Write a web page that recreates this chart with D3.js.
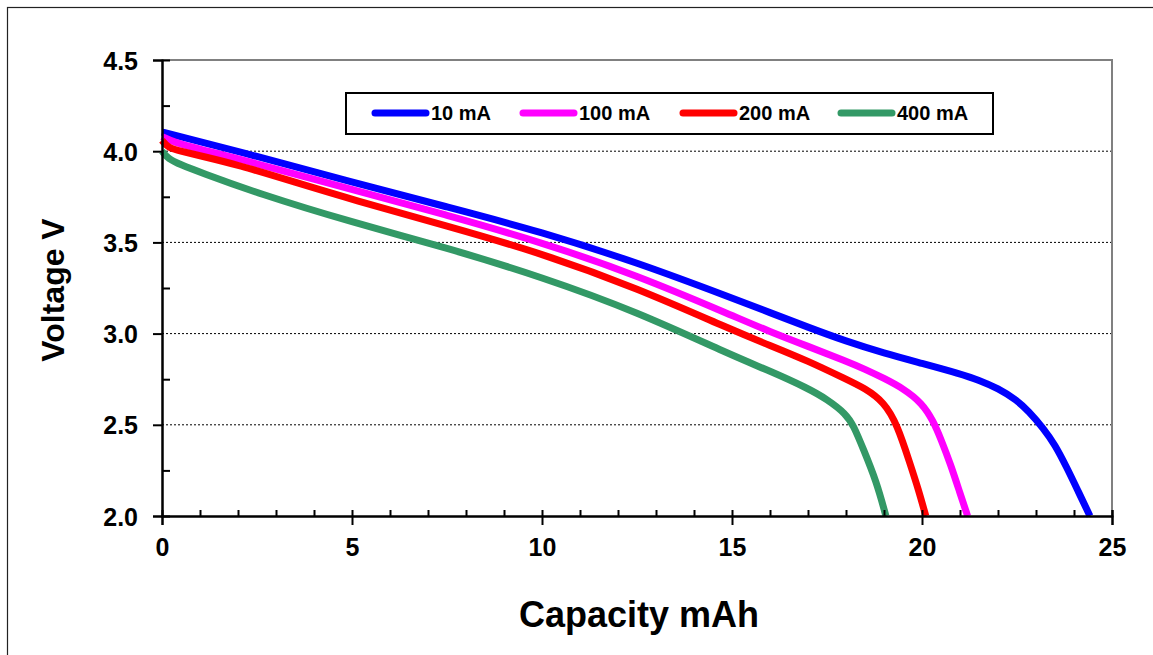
<!DOCTYPE html>
<html>
<head>
<meta charset="utf-8">
<script src="https://cdn.jsdelivr.net/npm/d3@7"></script>
<style>
  body { margin: 0; background: #fff; }
  text { font-family: "Liberation Sans", Arial, sans-serif; font-weight: bold; fill: #000; }
</style>
</head>
<body>
<div class="board"></div>
<script>

// discharge curves
var cap10  = [0, 0.3, 2, 5, 7.5, 10, 12.5, 15, 16, 17, 18, 19, 20, 21, 21.5, 22, 22.5, 22.8, 23.2, 23.5, 23.8, 24.1, 24.42];
var volt10 = [4.105, 4.09, 4.0, 3.83, 3.695, 3.557, 3.39, 3.195, 3.115, 3.035, 2.958, 2.893, 2.837, 2.78, 2.745, 2.70, 2.635, 2.575, 2.48, 2.39, 2.27, 2.14, 2.0];

var cap100  = [0, 0.3, 1, 2, 5, 7.5, 10, 12.5, 15, 16, 17, 18, 18.5, 19, 19.5, 20, 20.3, 20.5, 20.75, 21, 21.2];
var volt100 = [4.08, 4.05, 4.01, 3.96, 3.79, 3.65, 3.50, 3.32, 3.10, 3.01, 2.93, 2.85, 2.805, 2.755, 2.70, 2.62, 2.52, 2.42, 2.285, 2.125, 2.0];

var cap200  = [0, 0.15, 0.5, 1, 2, 3.5, 5, 7.5, 10, 12.5, 15, 16, 17, 18, 18.5, 19, 19.35, 19.68, 19.9, 20.1];
var volt200 = [4.06, 4.02, 4.0, 3.975, 3.925, 3.83, 3.735, 3.59, 3.44, 3.25, 3.02, 2.935, 2.85, 2.75, 2.70, 2.625, 2.5, 2.29, 2.15, 2.0];

var cap400  = [0, 0.15, 0.5, 1, 2.5, 5, 7.5, 10, 12.5, 15, 16, 17, 17.5, 18, 18.2, 18.45, 18.8, 19.05];
var volt400 = [4.0, 3.96, 3.925, 3.885, 3.77, 3.61, 3.47, 3.31, 3.12, 2.88, 2.795, 2.70, 2.64, 2.56, 2.495, 2.37, 2.19, 2.0];

var seriesNames  = ['10 mA', '100 mA', '200 mA', '400 mA'];
var seriesColors = ['#0000ff', '#ff00ff', '#ff0000', '#339966'];
var seriesCaps   = [cap10, cap100, cap200, cap400];
var seriesVolts  = [volt10, volt100, volt200, volt400];

var xMajor = [0, 5, 10, 15, 20, 25];
var yMajor = [2.0, 2.5, 3.0, 3.5, 4.0, 4.5];
var yGrid  = [2.5, 3.0, 3.5, 4.0];

var svg = d3.select('.board').append('svg')
            .attr('width', 1153)
            .attr('height', 655);

// outer chart frame
svg.append('rect')
   .attr('x', 7.5).attr('y', 7.5)
   .attr('width', 1200).attr('height', 700)
   .attr('fill', 'none')
   .attr('stroke', '#222')
   .attr('stroke-width', 1.2);

var x = d3.scaleLinear().domain([0, 25]).range([162, 1112]);
var y = d3.scaleLinear().domain([2, 4.5]).range([516, 60]);

// grid lines
svg.selectAll('.grid')
   .data(yGrid)
   .enter()
   .append('line')
   .attr('x1', x(0)).attr('x2', x(25))
   .attr('y1', function(d) { return y(d); })
   .attr('y2', function(d) { return y(d); })
   .attr('stroke', '#000')
   .attr('stroke-width', 1)
   .attr('stroke-dasharray', '2,2');

// plot frame top and right (grey)
svg.append('path')
   .attr('d', 'M' + x(0) + ',' + y(4.5) + 'H' + x(25) + 'V' + y(2))
   .attr('fill', 'none')
   .attr('stroke', '#808080')
   .attr('stroke-width', 2);

// curves
var line = d3.line()
             .x(function(d) { return x(d[0]); })
             .y(function(d) { return y(d[1]); })
             .curve(d3.curveBasis);

seriesNames.forEach(function(name, i) {
  var pts = seriesCaps[i].map(function(c, j) { return [c, seriesVolts[i][j]]; });
  svg.append('path')
     .datum(pts)
     .attr('d', line)
     .attr('fill', 'none')
     .attr('stroke', seriesColors[i])
     .attr('stroke-width', 7)
     .attr('stroke-linejoin', 'round');
});

// axes
var yMinor = [2.25, 2.75, 3.25, 3.75, 4.25];
var xMinor = d3.range(1, 26);

var yAxis = svg.append('g')
   .attr('transform', 'translate(' + x(0) + ',0)')
   .call(d3.axisLeft(y).tickValues(yMajor).tickSize(9).tickPadding(15)
           .tickFormat(d3.format('.1f')));
svg.append('g')
   .attr('transform', 'translate(' + x(0) + ',0)')
   .call(d3.axisRight(y).tickValues(yMinor).tickSize(8).tickFormat(''));

var xAxis = svg.append('g')
   .attr('transform', 'translate(0,' + y(2) + ')')
   .call(d3.axisBottom(x).tickValues(xMajor).tickSize(9).tickPadding(13)
           .tickFormat(d3.format('d')));
svg.append('g')
   .attr('transform', 'translate(0,' + y(2) + ')')
   .call(d3.axisTop(x).tickValues(xMinor).tickSize(6).tickFormat(''));

svg.selectAll('.domain').attr('stroke', '#000').attr('stroke-width', 2);
svg.selectAll('.tick line').attr('stroke', '#000').attr('stroke-width', 2);
svg.selectAll('.tick text')
   .style('font-family', '"Liberation Sans", Arial, sans-serif')
   .style('font-weight', 'bold')
   .style('font-size', '25px')
   .attr('fill', '#000');
yAxis.selectAll('.tick text').attr('dy', '0.36em');

// axis titles
svg.append('text')
   .attr('transform', 'translate(64,290) rotate(-90)')
   .attr('text-anchor', 'middle')
   .style('font-size', '32px')
   .text('Voltage V');

svg.append('text')
   .attr('x', 639).attr('y', 627)
   .attr('text-anchor', 'middle')
   .style('font-size', '36px')
   .text('Capacity mAh');

// legend
var legend = svg.append('g');
legend.append('rect')
      .attr('x', 346).attr('y', 93)
      .attr('width', 647).attr('height', 41)
      .attr('fill', '#fff')
      .attr('stroke', '#000')
      .attr('stroke-width', 2);

var legendX = [372, 520, 680, 838];
var items = legend.selectAll('.item')
      .data(seriesNames)
      .enter()
      .append('g')
      .attr('transform', function(d, i) { return 'translate(' + legendX[i] + ',113)'; });

items.append('line')
     .attr('x1', 3).attr('x2', 54)
     .attr('stroke', function(d, i) { return seriesColors[i]; })
     .attr('stroke-width', 7)
     .attr('stroke-linecap', 'round');

items.append('text')
     .attr('x', 59).attr('dy', '0.36em')
     .style('font-size', '20px')
     .text(function(d) { return d; });

</script>
</body>
</html>
